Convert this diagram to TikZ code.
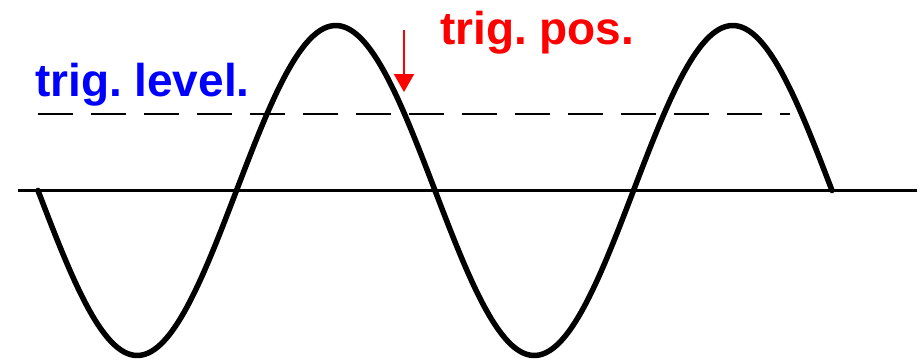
\documentclass[tikz,border=0pt]{standalone}
\usepackage{fontspec}
\setmainfont{Liberation Sans}
\usepackage{tikz}
\usetikzlibrary{positioning,arrows.meta}
\usepackage{xcolor}
\definecolor{levelblue}{RGB}{0,0,255}
\definecolor{posred}{RGB}{255,0,0}

\begin{document}
\begin{tikzpicture}[x=1pt,y=-1pt,
  wave/.style={line width=5.5pt,line join=round,line cap=round},
  levelline/.style={line width=2.3pt,dash pattern=on 35pt off 18pt},
  labeltext/.style={inner sep=0pt,anchor=base west,
                    font=\fontsize{46}{50}\selectfont\bfseries}]
\useasboundingbox (0,0) rectangle (920,359);
% zero line and trigger level
\coordinate (axisL) at (18,190.5);
\coordinate (axisR) at (917,190.5);
\draw[line width=2.3pt] (axisL) -- (axisR);
\coordinate (levelL) at (38,114);
\coordinate (levelR) at (790,114);
\draw[levelline] (levelL) -- (levelR);
% the signal
\draw[wave] plot[domain=38:832,samples=240,smooth]
  (\x,{190.5+165*sin(0.906801*(\x-38))});
% labels
\node[labeltext,text=levelblue] (level) at (35,96) {trig.\hspace{0.27em}level.};
\node[labeltext,text=posred] (pos) at (440,44) {trig.\hspace{0.27em}pos.};
\coordinate (posTop) at (404,30);
\coordinate (posTip) at (404,92);
\draw[posred,line width=2pt,-{Triangle[width=20pt,length=18pt]}] (posTop) -- (posTip);
\end{tikzpicture}
\end{document}
